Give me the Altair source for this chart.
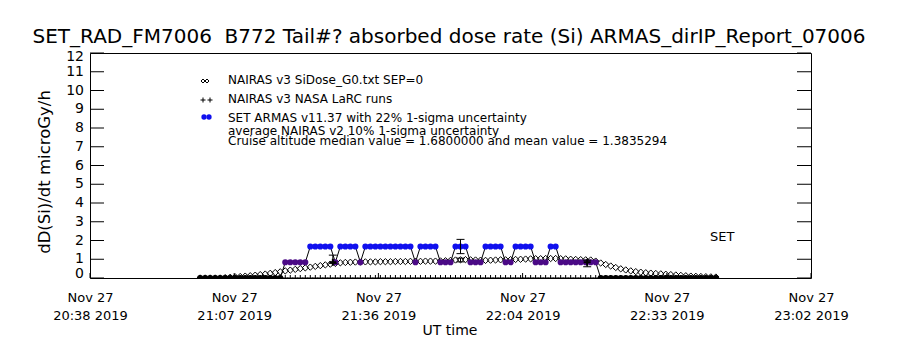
import altair as alt
import pandas as pd

FONT = "DejaVu Sans"

title_text = "SET_RAD_FM7006\u00a0\u00a0B772 Tail#? absorbed dose rate (Si) ARMAS_dirIP_Report_07006"
y_title = "dD(Si)/dt microGy/h"
x_title = "UT time"

# minutes after 20:38 UT, Nov 27 2019
x_tick_minutes = [0, 28.8, 57.6, 86.4, 115.2, 144]
x_tick_dates = ["Nov 27", "Nov 27", "Nov 27", "Nov 27", "Nov 27", "Nov 27"]
x_tick_times = ["20:38 2019", "21:07 2019", "21:36 2019", "22:04 2019", "22:33 2019", "23:02 2019"]
y_tick_values = [0, 1, 2, 3, 4, 5, 6, 7, 8, 9, 10, 11, 12]

legend_lines = [
    "NAIRAS v3 SiDose_G0.txt SEP=0",
    "NAIRAS v3 NASA LaRC runs",
    "SET ARMAS v11.37 with 22% 1-sigma uncertainty",
    "average NAIRAS v2 10% 1-sigma uncertainty",
    "Cruise altitude median value = 1.6800000 and mean value = 1.3835294",
]
set_label = "SET"

armas_minutes = list(range(22, 126))
armas_dose = (
    [0] * 17
    + [0.84] * 5 + [1.68] * 5 + [0.84] + [1.68] * 4 + [0.84] + [1.68] * 10 + [0.84]
    + [1.68] * 4 + [0.84] * 3 + [1.68] * 3 + [0.84] * 3 + [1.68] * 4 + [0.84] * 2
    + [1.68] * 4 + [0.84] * 3 + [1.68] * 2 + [0.84] * 8
    + [0] * 24
)

nairas_minutes = list(range(22, 126))
nairas_dose = [
    0, 0, 0, 0, 0, 0.02, 0.04, 0.06, 0.08,
    0.10, 0.12, 0.15, 0.18, 0.21, 0.25, 0.29, 0.33,
    0.38, 0.42, 0.46, 0.50, 0.54, 0.58, 0.62, 0.66, 0.70,
    0.74, 0.78, 0.81, 0.83, 0.84, 0.85, 0.85, 0.86,
    0.86, 0.86, 0.87, 0.87, 0.87, 0.88, 0.88, 0.88, 0.89, 0.89, 0.89, 0.90, 0.90, 0.90, 0.91,
    0.92, 0.94, 0.96, 0.97, 0.98, 0.97, 0.96, 0.95, 0.94, 0.95, 0.96, 0.97, 0.97, 0.98, 0.99,
    1.00, 1.01, 1.02, 1.03, 1.03, 1.04, 1.04, 1.04, 1.03, 1.02, 1.00, 0.99, 0.98, 0.97, 0.96, 0.90,
    0.80, 0.72, 0.64, 0.56, 0.49, 0.43, 0.38, 0.34, 0.31, 0.28, 0.26, 0.24, 0.22, 0.20, 0.18,
    0.16, 0.14, 0.12, 0.10, 0.09, 0.08, 0.07, 0.06, 0.05,
]

larc_zero_minutes = list(range(22, 126))
larc_zero_dose = [0] * len(larc_zero_minutes)

larc_minutes = [48.5, 99.3]
larc_dose = [0.84, 0.84]

errbar_minutes = [48.5, 74.0, 74.0, 99.3]
errbar_low = [0.78, 1.30, 0.86, 0.60]
errbar_high = [1.22, 2.06, 1.06, 0.95]

# ---------------------------------------------------------------
W, H = 721, 225

label_expr = ""
for i, m in enumerate(x_tick_minutes):
    if i < len(x_tick_minutes) - 1:
        label_expr += f"datum.value < {m + 5} ? ['{x_tick_dates[i]}', '{x_tick_times[i]}'] : "
    else:
        label_expr += f"['{x_tick_dates[i]}', '{x_tick_times[i]}']"

xscale = alt.Scale(domain=[0, 144], nice=False, zero=False)
yscale = alt.Scale(domain=[0, 12], nice=False, zero=False)

x_axis = alt.Axis(values=x_tick_minutes, labelExpr=label_expr, ticks=False, domain=False,
                  grid=False, labelFont=FONT, labelFontSize=13, labelLineHeight=18,
                  labelPadding=13, labelFlush=False, labelOverlap=False, labelColor="black",
                  title=None, labelBaseline="top")


def X(field):
    return alt.X(field, type="quantitative", scale=xscale, axis=x_axis)


def Y(field):
    return alt.Y(field, type="quantitative", scale=yscale, axis=None)


one = pd.DataFrame({"a": [0]})

df_armas = pd.DataFrame({"t": armas_minutes, "v": armas_dose})
df_nairas = pd.DataFrame({"t": nairas_minutes, "v": nairas_dose})
df_zero = pd.DataFrame({"t": larc_zero_minutes, "v": larc_zero_dose})
df_larc = pd.DataFrame({"t": larc_minutes, "v": larc_dose})
df_err = pd.DataFrame({"t": errbar_minutes, "lo": errbar_low, "hi": errbar_high})
df_caps = pd.concat([
    pd.DataFrame({"t": errbar_minutes, "v": errbar_low}),
    pd.DataFrame({"t": errbar_minutes, "v": errbar_high}),
])
df_yt = pd.DataFrame({"v": y_tick_values, "lab": [str(v) for v in y_tick_values]})
df_xt = pd.DataFrame({"t": x_tick_minutes})

plus_path = "M0,-1L0,1M-1,0L1,0"
hbar_path = "M-1,0L1,0"

layers = []

# y ticks (inward, both sides)
layers.append(alt.Chart(df_yt).mark_rule(color="black", strokeWidth=1).encode(
    y=Y("v"), x=alt.value(0), x2=alt.value(14)))
layers.append(alt.Chart(df_yt).mark_rule(color="black", strokeWidth=1).encode(
    y=Y("v"), x=alt.value(W - 14), x2=alt.value(W)))
# y tick labels (end labels kept inside the axis extent)
for cond, shift in [("datum.v == 0", -4), ("datum.v > 0 && datum.v < 12", 0), ("datum.v == 12", 4)]:
    layers.append(alt.Chart(df_yt).transform_filter(cond).mark_text(
        align="right", baseline="middle", font=FONT, fontSize=14, color="black",
        dx=-6, dy=shift).encode(y=Y("v"), x=alt.value(0), text="lab:N"))
# x ticks (inward)
layers.append(alt.Chart(df_xt).mark_rule(color="black", strokeWidth=1).encode(
    x=X("t"), y=alt.value(H), y2=alt.value(H - 5)))

# NASA LaRC zero-level plus marks
layers.append(alt.Chart(df_zero).mark_point(shape=plus_path, size=36, color="black",
                                             strokeWidth=1, filled=False, opacity=1, clip=True).encode(
    x=X("t"), y=Y("v")))

# NAIRAS diamonds
layers.append(alt.Chart(df_nairas).mark_point(shape="diamond", size=40, color="black",
                                               strokeWidth=1, filled=False, opacity=1, clip=True).encode(
    x=X("t"), y=Y("v")))

# ARMAS connecting line
layers.append(alt.Chart(df_armas).mark_line(color="black", strokeWidth=1, clip=True).encode(
    x=X("t"), y=Y("v")))

# ARMAS points coloured by level
layers.append(alt.Chart(df_armas).mark_circle(size=38, opacity=1, clip=True).encode(
    x=X("t"), y=Y("v"),
    color=alt.Color("v:Q", scale=alt.Scale(type="threshold", domain=[0.4, 1.2],
                                           range=["#000000", "#4b0a86", "#1010ee"]),
                    legend=None)))

# error bars
layers.append(alt.Chart(df_err).mark_rule(color="black", strokeWidth=1).encode(
    x=X("t"), y=Y("lo"), y2="hi"))
layers.append(alt.Chart(df_caps).mark_point(shape=hbar_path, size=64, color="black",
                                             strokeWidth=1, filled=False, opacity=1).encode(
    x=X("t"), y=Y("v")))
# LaRC points
layers.append(alt.Chart(df_larc).mark_point(shape=plus_path, size=49, color="black",
                                             strokeWidth=2, filled=False, opacity=1).encode(
    x=X("t"), y=Y("v")))

# legend symbols
layers.append(alt.Chart(one).mark_point(shape="diamond", size=16, color="black", filled=False,
                                        strokeWidth=1, opacity=1).encode(
    x=alt.value(113), y=alt.value(28)))
layers.append(alt.Chart(one).mark_point(shape="diamond", size=16, color="black", filled=False,
                                        strokeWidth=1, opacity=1).encode(
    x=alt.value(117), y=alt.value(28)))
layers.append(alt.Chart(one).mark_point(shape=plus_path, size=25, color="black", filled=False,
                                        strokeWidth=1, opacity=1).encode(
    x=alt.value(113), y=alt.value(47)))
layers.append(alt.Chart(one).mark_point(shape=plus_path, size=25, color="black", filled=False,
                                        strokeWidth=1, opacity=1).encode(
    x=alt.value(120), y=alt.value(47)))
layers.append(alt.Chart(one).mark_circle(size=28, color="#1010ee", opacity=1).encode(
    x=alt.value(114), y=alt.value(64)))
layers.append(alt.Chart(one).mark_circle(size=28, color="#1010ee", opacity=1).encode(
    x=alt.value(119), y=alt.value(64)))

# legend texts
legend_y = [27, 46, 65, 78, 88]
for txt, ly in zip(legend_lines, legend_y):
    layers.append(alt.Chart(one).mark_text(align="left", baseline="middle", font=FONT,
                                           fontSize=12, color="black").encode(
        x=alt.value(138), y=alt.value(ly), text=alt.value(txt)))

# SET label
layers.append(alt.Chart(one).mark_text(align="left", baseline="middle", font=FONT,
                                       fontSize=13, color="black").encode(
    x=alt.value(620), y=alt.value(184), text=alt.value(set_label)))

# Title
layers.append(alt.Chart(one).mark_text(align="center", baseline="middle", font=FONT,
                                       fontSize=20, color="black").encode(
    x=alt.value(359), y=alt.value(-16), text=alt.value(title_text)))
# y title
layers.append(alt.Chart(one).mark_text(align="center", baseline="middle", font=FONT,
                                       fontSize=16.5, color="black", angle=270).encode(
    x=alt.value(-45), y=alt.value(119), text=alt.value(y_title)))
# x title
layers.append(alt.Chart(one).mark_text(align="center", baseline="middle", font=FONT,
                                       fontSize=14, color="black").encode(
    x=alt.value(360), y=alt.value(278), text=alt.value(x_title)))

chart = alt.layer(*layers).properties(
    width=W, height=H,
    autosize=alt.AutoSizeParams(type="none"),
    padding={"left": 90, "top": 53, "right": 89, "bottom": 72},
    background="white",
).configure_view(stroke="black", strokeWidth=1)

chart.save("out.html", embed_options={"renderer": "svg", "actions": False})
